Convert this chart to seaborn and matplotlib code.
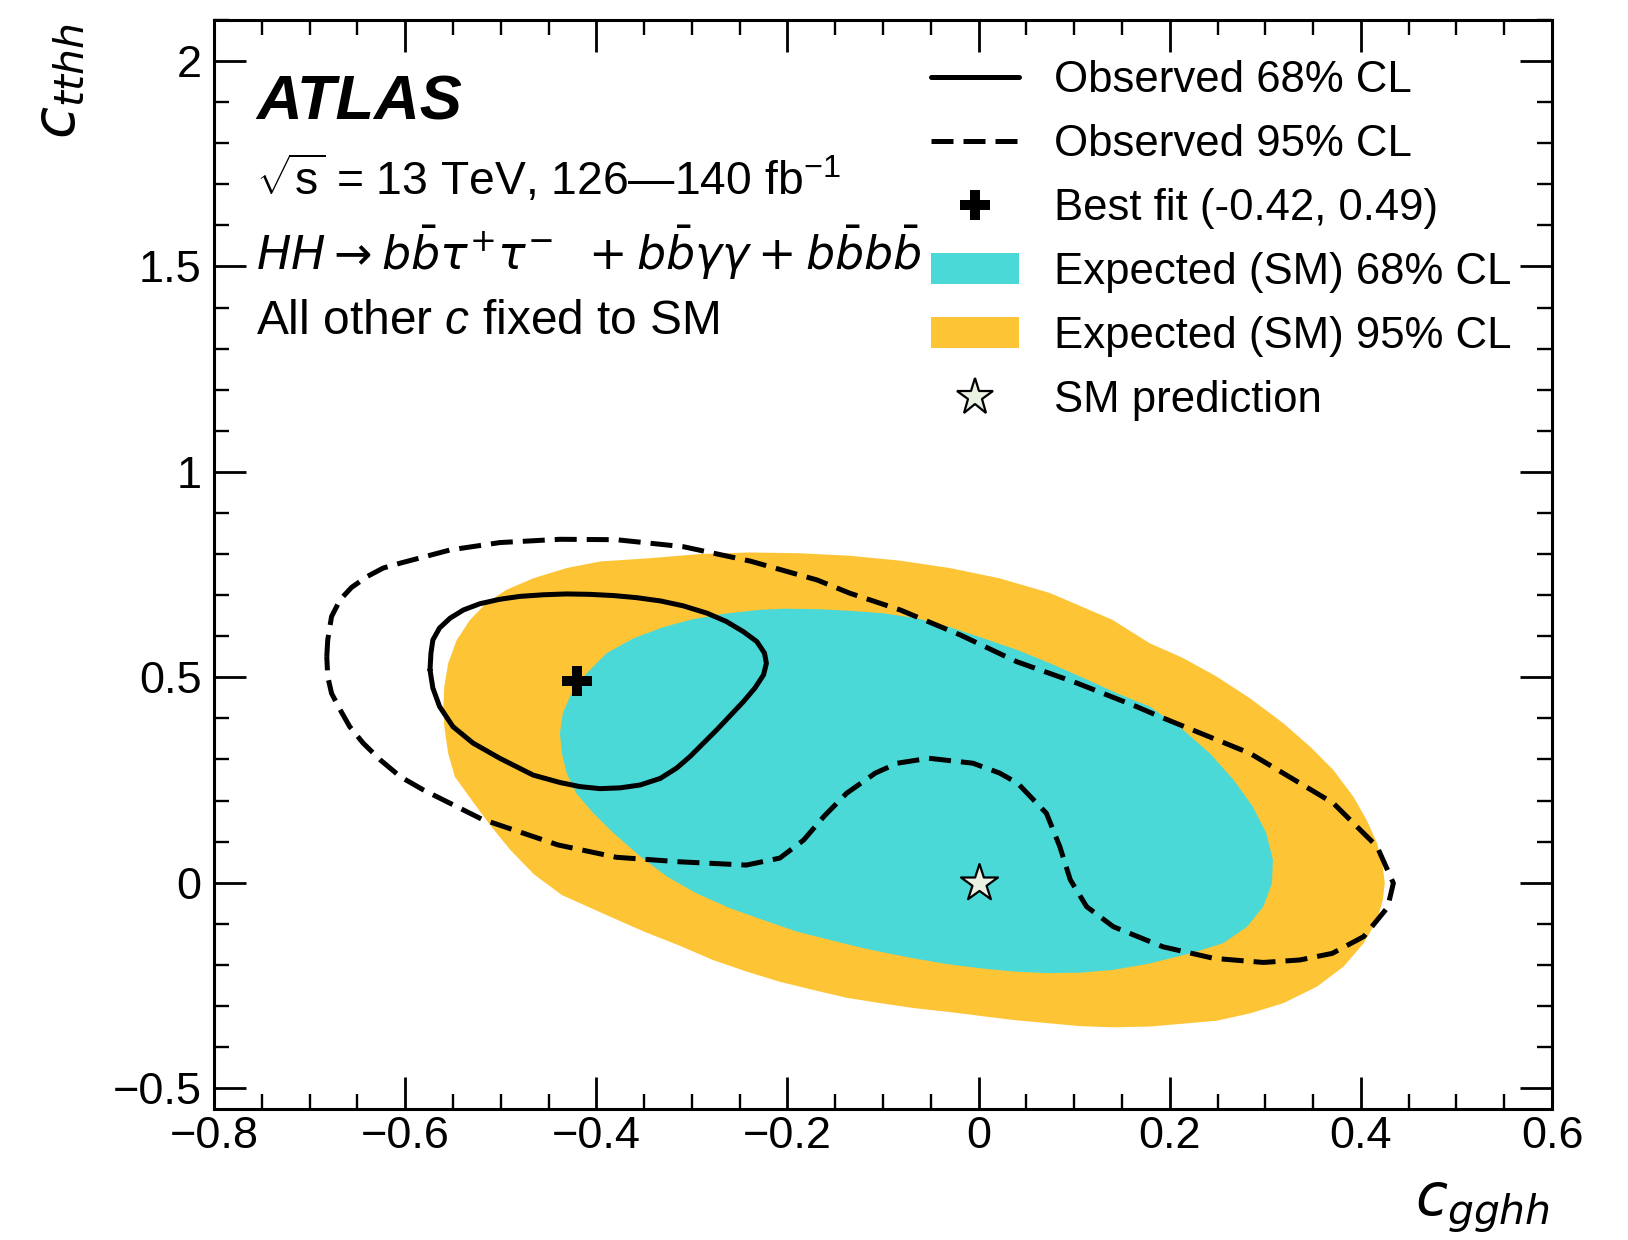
import matplotlib
matplotlib.use("Agg")
import matplotlib.pyplot as plt
from matplotlib.lines import Line2D
from matplotlib.patches import Patch
from matplotlib.ticker import MultipleLocator, FuncFormatter
import seaborn as sns

sns.set_theme(style="ticks", rc={
    "axes.edgecolor": "black", "xtick.color": "black", "ytick.color": "black",
    "text.color": "black", "axes.labelcolor": "black",
})
plt.rcParams["font.family"] = ["Liberation Sans", "DejaVu Sans"]
plt.rcParams["mathtext.fontset"] = "custom"
plt.rcParams["mathtext.rm"] = "Liberation Sans"
plt.rcParams["mathtext.it"] = "Liberation Sans:italic"
plt.rcParams["mathtext.bf"] = "Liberation Sans:bold"

# ---------------- data ----------------
# Expected (SM) 95% CL region boundary
exp95_x = [-0.560, -0.559, -0.555, -0.548, -0.530, -0.511, -0.490, -0.465, -0.436, -0.390,
           -0.350, -0.313, -0.278, -0.243, -0.208, -0.173, -0.138, -0.103, -0.068, -0.033,
           0.036, 0.106, 0.141, 0.179, 0.249, 0.284, 0.319, 0.354, 0.382, 0.403,
           0.417, 0.423, 0.425, 0.423, 0.417, 0.406, 0.392, 0.371, 0.347, 0.319,
           0.284, 0.249, 0.214, 0.179, 0.140, 0.100, 0.075, 0.022, -0.030, -0.082,
           -0.135, -0.187, -0.239, -0.292, -0.344, -0.396, -0.431, -0.466, -0.494, -0.515,
           -0.532, -0.546, -0.555, -0.559, -0.560]
exp95_y = [0.429, 0.380, 0.315, 0.258, 0.200, 0.140, 0.080, 0.020, -0.030, -0.078,
           -0.119, -0.153, -0.188, -0.216, -0.241, -0.261, -0.280, -0.293, -0.305, -0.314,
           -0.334, -0.349, -0.352, -0.350, -0.336, -0.318, -0.293, -0.253, -0.204, -0.147,
           -0.091, -0.042, -0.001, 0.039, 0.096, 0.153, 0.210, 0.275, 0.331, 0.388,
           0.449, 0.502, 0.547, 0.583, 0.640, 0.680, 0.705, 0.741, 0.766, 0.784,
           0.796, 0.802, 0.804, 0.800, 0.790, 0.782, 0.766, 0.741, 0.713, 0.681,
           0.640, 0.591, 0.534, 0.478, 0.429]

# Expected (SM) 68% CL region boundary
exp68_x = [-0.438, -0.435, -0.426, -0.410, -0.389, -0.361, -0.330, -0.300, -0.265, -0.230,
           -0.204, -0.169, -0.135, -0.100, -0.065, -0.030, 0.005, 0.040, 0.075, 0.110,
           0.145, 0.179, 0.214, 0.242, 0.267, 0.287, 0.301, 0.308, 0.307, 0.298,
           0.281, 0.256, 0.225, 0.176, 0.141, 0.106, 0.071, 0.036, 0.001, -0.033,
           -0.068, -0.103, -0.121, -0.156, -0.190, -0.225, -0.260, -0.295, -0.326, -0.354,
           -0.382, -0.403, -0.421, -0.431, -0.436, -0.438]
exp68_y = [0.364, 0.413, 0.461, 0.510, 0.559, 0.595, 0.622, 0.641, 0.655, 0.664,
           0.667, 0.666, 0.662, 0.656, 0.644, 0.622, 0.595, 0.567, 0.534, 0.498,
           0.461, 0.429, 0.372, 0.315, 0.250, 0.185, 0.121, 0.056, -0.001, -0.058,
           -0.107, -0.147, -0.170, -0.198, -0.212, -0.219, -0.220, -0.216, -0.208, -0.198,
           -0.184, -0.168, -0.159, -0.139, -0.119, -0.091, -0.062, -0.026, 0.015, 0.064,
           0.121, 0.169, 0.218, 0.267, 0.315, 0.364]

# Observed 68% CL contour
obs68_x = [-0.574, -0.573, -0.571, -0.564, -0.553, -0.539, -0.522, -0.501, -0.480, -0.455,
           -0.431, -0.407, -0.382, -0.358, -0.333, -0.309, -0.284, -0.264, -0.246, -0.232,
           -0.224, -0.222, -0.225, -0.234, -0.246, -0.274, -0.302, -0.316, -0.333, -0.354,
           -0.375, -0.396, -0.417, -0.438, -0.466, -0.501, -0.529, -0.550, -0.564, -0.571,
           -0.574]
obs68_y = [0.518, 0.559, 0.591, 0.620, 0.644, 0.664, 0.679, 0.690, 0.697, 0.701,
           0.703, 0.702, 0.699, 0.694, 0.686, 0.674, 0.656, 0.636, 0.611, 0.587,
           0.559, 0.534, 0.506, 0.474, 0.441, 0.372, 0.307, 0.279, 0.254, 0.238,
           0.231, 0.229, 0.234, 0.244, 0.262, 0.303, 0.340, 0.380, 0.429, 0.474,
           0.518]

# Observed 95% CL contour
obs95_x = [-0.682, -0.681, -0.677, -0.668, -0.656, -0.640, -0.623, -0.605, -0.553, -0.501,
           -0.438, -0.379, -0.309, -0.239, -0.169, -0.135, -0.082, -0.019, 0.040, 0.103,
           0.165, 0.190, 0.284, 0.371, 0.417, 0.434, 0.428, 0.403, 0.370, 0.336,
           0.298, 0.246, 0.193, 0.141, 0.113, 0.096, 0.085, 0.071, 0.041, 0.022,
           -0.006, -0.052, -0.085, -0.108, -0.138, -0.162, -0.183, -0.208, -0.243, -0.313,
           -0.379, -0.440, -0.520, -0.581, -0.605, -0.626, -0.644, -0.658, -0.668, -0.677,
           -0.681, -0.682]
obs95_y = [0.550, 0.591, 0.648, 0.689, 0.719, 0.745, 0.766, 0.778, 0.810, 0.828,
           0.836, 0.835, 0.818, 0.783, 0.737, 0.705, 0.664, 0.603, 0.538, 0.486,
           0.429, 0.404, 0.315, 0.194, 0.088, -0.001, -0.060, -0.131, -0.172, -0.188,
           -0.194, -0.184, -0.156, -0.107, -0.058, 0.007, 0.088, 0.169, 0.242, 0.267,
           0.291, 0.303, 0.291, 0.267, 0.218, 0.161, 0.104, 0.060, 0.043, 0.051,
           0.062, 0.092, 0.155, 0.226, 0.258, 0.299, 0.340, 0.380, 0.421, 0.461,
           0.502, 0.550]

best_fit_x, best_fit_y = [-0.42], [0.49]
sm_x, sm_y = [0.0], [0.0]

legend_labels = ["Observed 68% CL", "Observed 95% CL", "Best fit (-0.42, 0.49)",
                 "Expected (SM) 68% CL", "Expected (SM) 95% CL", "SM prediction"]

# ---------------- style ----------------
TEAL = "#4bd9d8"
ORANGE = "#fdc436"
STAR_FACE = "#eaf2e4"
LW = 3.6
DASH = (4.4, 2.0)

W_PX, H_PX = 1628, 1240
fig = plt.figure(figsize=(W_PX / 100, H_PX / 100), dpi=100)
ax_l, ax_r, ax_t, ax_b = 214, 1552, 20, 1108.7
ax = fig.add_axes([ax_l / W_PX, 1 - ax_b / H_PX, (ax_r - ax_l) / W_PX, (ax_b - ax_t) / H_PX])

ax.fill(exp95_x, exp95_y, color=ORANGE, lw=0, zorder=1)
ax.fill(exp68_x, exp68_y, color=TEAL, lw=0, zorder=2)

sns.lineplot(x=obs68_x, y=obs68_y, sort=False, estimator=None, color="black",
             lw=LW, ax=ax, zorder=4)
ax.lines[-1].set_solid_joinstyle("round")
sns.lineplot(x=obs95_x, y=obs95_y, sort=False, estimator=None, color="black",
             lw=LW, ax=ax, zorder=4)
ax.lines[-1].set_dashes(DASH)

sns.scatterplot(x=best_fit_x, y=best_fit_y, marker="P", s=22 ** 2, color="black",
                edgecolor="black", linewidth=0, ax=ax, zorder=6)
sns.scatterplot(x=sm_x, y=sm_y, marker="*", s=28 ** 2, color=STAR_FACE,
                edgecolor="black", linewidth=1.6, ax=ax, zorder=6)

ax.set_xlim(-0.8, 0.6)
ax.set_ylim(-0.55, 2.1)
ax.xaxis.set_major_locator(MultipleLocator(0.2))
ax.xaxis.set_minor_locator(MultipleLocator(0.05))
ax.yaxis.set_major_locator(MultipleLocator(0.5))
ax.yaxis.set_minor_locator(MultipleLocator(0.1))
fmt = FuncFormatter(lambda v, p: ("%g" % round(v, 3)).replace("-", "\u2212"))
ax.xaxis.set_major_formatter(fmt)
ax.yaxis.set_major_formatter(fmt)
ax.tick_params(which="major", direction="in", length=23, width=2.0,
               top=True, right=True, labelsize=32.5)
ax.tick_params(which="minor", direction="in", length=11, width=1.7, top=True, right=True)
ax.tick_params(axis="y", which="major", pad=9)
ax.tick_params(axis="x", which="major", pad=5)
for sp in ax.spines.values():
    sp.set_linewidth(2.2)
    sp.set_color("black")
ax.set_xlabel("")
ax.set_ylabel("")

# annotations
tx = (256.5 - ax_l) / (ax_r - ax_l)
def ay(py):
    return (ax_b - py) / (ax_b - ax_t)
ax.text(tx, ay(119.4), "ATLAS", transform=ax.transAxes, fontsize=45.5,
        fontweight="bold", fontstyle="italic", va="baseline", ha="left")
ax.text(tx, ay(195.2), "$\\sqrt{\\mathrm{s}}$ = 13 TeV, 126\u2014140 fb$^{-1}$",
        transform=ax.transAxes, fontsize=33.3, va="baseline", ha="left")
ax.text(tx, ay(270),
        r"$HH \rightarrow b\bar{b}\tau^{+}\tau^{-}\;\;+ b\bar{b}\gamma\gamma + b\bar{b}b\bar{b}$",
        transform=ax.transAxes, fontsize=33, va="baseline", ha="left",
        math_fontfamily="dejavusans")
ax.text(tx, ay(334.3), r"All other $c$ fixed to SM", transform=ax.transAxes,
        fontsize=34.5, va="baseline", ha="left")

# axis titles
fig.text(1550 / W_PX, 1 - 1215 / H_PX, r"$c_{gghh}$", fontsize=42, ha="right",
         va="baseline", math_fontfamily="dejavusans")
fig.text(60 / W_PX, 1 - 24 / H_PX, r"$c_{tthh}$", fontsize=42, ha="center", va="top",
         rotation=90, math_fontfamily="dejavusans")

# legend
handles = [
    Line2D([], [], color="black", lw=LW),
    Line2D([], [], color="black", lw=LW, dashes=DASH),
    Line2D([], [], ls="none", marker="P", ms=22, mfc="black", mec="black", mew=0),
    Patch(facecolor=TEAL, edgecolor="none"),
    Patch(facecolor=ORANGE, edgecolor="none"),
    Line2D([], [], ls="none", marker="*", ms=28, mfc=STAR_FACE, mec="black", mew=1.6),
]
ax.legend(handles, legend_labels, loc="upper left",
          bbox_to_anchor=(931 / W_PX, 1 - 60 / H_PX), bbox_transform=fig.transFigure,
          frameon=False, fontsize=31.5, handlelength=2.0, handletextpad=0.8,
          labelspacing=0.525, borderpad=0, borderaxespad=0)

fig.savefig("out.png", dpi=100)
